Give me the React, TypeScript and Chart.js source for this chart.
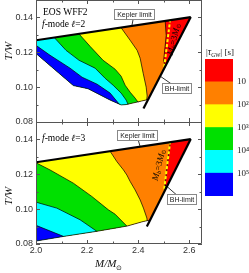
import { useEffect, useRef } from 'react';
import { Chart, registerables } from 'chart.js';

Chart.register(...registerables);

type Pt = [number, number];

// ---------- axes / legend text ----------
const xTickLabels = ['2.0', '2.2', '2.4', '2.6'];
const yTickLabels = ['0.08', '0.10', '0.12', '0.14'];
// colours from shortest (< 10 s) to longest (> 10^5 s) damping time
const levelColors = ['#ff0000', '#ff8000', '#ffff00', '#00e000', '#00ffff', '#0000ff'];
const colorbarTickLabels = ['10⁵', '10⁴', '10³', '10²', '10'];

// ---------- shared limits (x = M/M⊙, y = T/W) ----------
const keplerLimit: Pt[] = [[2.0, 0.1269], [2.606, 0.1402]];
const bhLimitL2: Pt[] = [[2.606, 0.1402], [2.4208, 0.0878]];
const bhLimitL3: Pt[] = [[2.606, 0.1402], [2.4341, 0.09]];
const baryonMass3: Pt[] = [[2.5255, 0.1389], [2.502, 0.1114]];

// ---------- f-mode l=2 ----------
const lowerEdgeL2: Pt[] = [[2.439, 0.0929], [2.3529, 0.09], [2.3333, 0.0898], [2.2902, 0.0926], [2.2039, 0.0991], [2.1463, 0.1009], [2.0, 0.1193]];
const tau10L2: Pt[] = [[2.5059, 0.1379], [2.5098, 0.1297], [2.5039, 0.1211], [2.5, 0.1154], [2.5059, 0.1111]];
const tau100L2: Pt[] = [[2.3333, 0.1341], [2.3686, 0.1269], [2.3961, 0.1211], [2.4078, 0.1166], [2.4196, 0.108], [2.4314, 0.1], [2.4353, 0.0949], [2.4333, 0.0926]];
const tau1e3L2: Pt[] = [[2.1686, 0.1305], [2.2118, 0.1234], [2.2627, 0.1154], [2.3098, 0.1103], [2.3333, 0.1063], [2.349, 0.1011], [2.3686, 0.0971], [2.3882, 0.0937], [2.4, 0.0913]];
const tau1e4L2: Pt[] = [[2.0706, 0.1286], [2.1176, 0.1211], [2.1686, 0.1154], [2.2314, 0.1109], [2.2706, 0.1051], [2.302, 0.1011], [2.3333, 0.0966], [2.3529, 0.0926], [2.3608, 0.09]];
const tau1e5L2: Pt[] = [[2.0, 0.124], [2.0549, 0.1183], [2.1333, 0.1109], [2.1804, 0.1057], [2.2392, 0.1017], [2.2902, 0.0966], [2.3255, 0.0903]];

// ---------- f-mode l=3 ----------
const lowerEdgeL3: Pt[] = [[2.4465, 0.0937], [2.4196, 0.0929], [2.3569, 0.0903], [2.3098, 0.0891], [2.2392, 0.0873], [2.1059, 0.0843], [2.0, 0.0817]];
const tau10L3: Pt[] = [[2.5255, 0.1383], [2.5188, 0.131], [2.5125, 0.1234], [2.5059, 0.1139], [2.5063, 0.1114]];
const tau100L3: Pt[] = [[2.2902, 0.1332], [2.3165, 0.1273], [2.3424, 0.1225], [2.3557, 0.1196], [2.3686, 0.1159], [2.3882, 0.111], [2.4078, 0.1053], [2.4208, 0.1006], [2.4341, 0.0949], [2.4353, 0.0934]];
const tau1e3L3: Pt[] = [[2.0, 0.1266], [2.0549, 0.1225], [2.1463, 0.1149], [2.2184, 0.1073], [2.2835, 0.0996], [2.3098, 0.0971], [2.3557, 0.0903]];
const tau1e4L3: Pt[] = [[2.0, 0.104], [2.0812, 0.1006], [2.1725, 0.0939], [2.238, 0.0873]];
const tau1e5L3: Pt[] = [[2.0, 0.0907], [2.1071, 0.0844]];

const SERIF = "'Liberation Serif', 'Times New Roman', serif";
const SANS = "'Liberation Sans', Arial, sans-serif";

interface PanelData {
  ell: string;
  contours: Pt[][];
  lowerEdge: Pt[];
  bhLimit: Pt[];
}

const panelL2: PanelData = { ell: '2', contours: [tau10L2, tau100L2, tau1e3L2, tau1e4L2, tau1e5L2], lowerEdge: lowerEdgeL2, bhLimit: bhLimitL2 };
const panelL3: PanelData = { ell: '3', contours: [tau10L3, tau100L3, tau1e3L3, tau1e4L3, tau1e5L3], lowerEdge: lowerEdgeL3, bhLimit: bhLimitL3 };

interface PanelLayout {
  padBottom: number;
  xAxisHeight: number;
  showX: boolean;
  frameBottom: boolean;
  eos: boolean;
  modeBaseline: number;
  yTitleY: number;
  keplerBox: { at: Pt; to: Pt };
  bhBox: { at: Pt; to: Pt };
  massLabel: Pt;
}

const layoutTop: PanelLayout = {
  padBottom: 8, xAxisHeight: 0, showX: false, frameBottom: false, eos: true, modeBaseline: 27, yTitleY: 51,
  keplerBox: { at: [2.3843, 0.1421], to: [2.3753, 0.1351] },
  bhBox: { at: [2.551, 0.0997], to: [2.4862, 0.1063] },
  massLabel: [2.5412, 0.1274],
};
const layoutBottom: PanelLayout = {
  padBottom: 0, xAxisHeight: 29, showX: true, frameBottom: true, eos: false, modeBaseline: 18.5, yTitleY: 74,
  keplerBox: { at: [2.394, 0.1427], to: [2.4078, 0.1359] },
  bhBox: { at: [2.5706, 0.1056], to: [2.5128, 0.113] },
  massLabel: [2.4824, 0.1254],
};

type Run = { t: string; italic?: boolean; size: number; dy?: number };

function runFont(r: Run) {
  return `${r.italic ? 'italic ' : ''}${r.size}px ${SERIF}`;
}

function drawRuns(ctx: CanvasRenderingContext2D, runs: Run[], x: number, y: number, center = false) {
  let total = 0;
  runs.forEach((r) => { ctx.font = runFont(r); total += ctx.measureText(r.t).width; });
  let cx = center ? x - total / 2 : x;
  ctx.textAlign = 'left';
  runs.forEach((r) => {
    ctx.font = runFont(r);
    ctx.fillText(r.t, cx, y + (r.dy || 0));
    cx += ctx.measureText(r.t).width;
  });
}

function lineDs(pts: Pt[], color: string, width: number, extra: any = {}) {
  return {
    data: pts.map(([x, y]) => ({ x, y })),
    showLine: true,
    borderColor: color,
    borderWidth: width,
    pointRadius: 0,
    pointHoverRadius: 0,
    fill: false,
    tension: 0,
    ...extra,
  };
}

function noScalePadding(s: any) {
  s.paddingTop = 0;
  s.paddingBottom = 0;
  s.paddingLeft = 0;
  s.paddingRight = 0;
}

function regionPlugin(p: PanelData) {
  return {
    id: 'regions',
    beforeDatasetsDraw(chart: any) {
      const { ctx, chartArea: a, scales } = chart;
      const P = (q: Pt) => [scales.x.getPixelForValue(q[0]), scales.y.getPixelForValue(q[1])];
      ctx.save();
      ctx.beginPath();
      ctx.rect(a.left, a.top, a.right - a.left, a.bottom - a.top);
      ctx.clip();
      ctx.beginPath();
      [...keplerLimit, ...p.lowerEdge].forEach((q, i) => {
        const [X, Y] = P(q);
        if (i) ctx.lineTo(X, Y); else ctx.moveTo(X, Y);
      });
      ctx.closePath();
      ctx.clip();
      ctx.fillStyle = levelColors[0];
      ctx.fillRect(a.left - 10, a.top - 10, a.right - a.left + 20, a.bottom - a.top + 20);
      p.contours.forEach((c, k) => {
        const pts = c.map(P);
        ctx.beginPath();
        ctx.moveTo(pts[0][0], a.top - 10);
        pts.forEach(([X, Y]) => ctx.lineTo(X, Y));
        ctx.lineTo(pts[pts.length - 1][0], a.bottom + 10);
        ctx.lineTo(a.left - 10, a.bottom + 10);
        ctx.lineTo(a.left - 10, a.top - 10);
        ctx.closePath();
        ctx.fillStyle = levelColors[k + 1];
        ctx.fill();
      });
      ctx.restore();
    },
  };
}

function decorPlugin(p: PanelData, L: PanelLayout) {
  return {
    id: 'decor',
    afterDatasetsDraw(chart: any) {
      const { ctx, chartArea: a, scales } = chart;
      const xs = scales.x, ys = scales.y;
      const P = (q: Pt) => [xs.getPixelForValue(q[0]), ys.getPixelForValue(q[1])];
      ctx.save();
      // frame
      ctx.strokeStyle = '#555';
      ctx.lineWidth = 1;
      const l = Math.round(a.left) + 0.5, r = Math.round(a.right) - 0.5, t = Math.round(a.top) + 0.5, b = Math.round(a.bottom) - 0.5;
      ctx.beginPath();
      if (L.frameBottom) {
        ctx.rect(l, t, r - l, b - t);
      } else {
        ctx.moveTo(l, a.bottom); ctx.lineTo(l, t); ctx.lineTo(r, t); ctx.lineTo(r, a.bottom);
      }
      xs.ticks.forEach((tk: any) => {
        const k = tk.value * 10;
        if (Math.abs(k - Math.round(k)) > 1e-6) return;
        const len = Math.round(k) % 2 === 0 ? 4 : 2.5;
        const X = Math.round(xs.getPixelForValue(tk.value)) + 0.5;
        ctx.moveTo(X, a.bottom); ctx.lineTo(X, a.bottom - len);
        ctx.moveTo(X, a.top); ctx.lineTo(X, a.top + len);
      });
      ys.ticks.forEach((tk: any) => {
        const k = tk.value * 100;
        if (Math.abs(k - Math.round(k)) > 1e-6) return;
        const len = Math.round(k) % 2 === 0 ? 4 : 2.5;
        const Y = Math.round(ys.getPixelForValue(tk.value)) + 0.5;
        ctx.moveTo(a.left, Y); ctx.lineTo(a.left + len, Y);
        ctx.moveTo(a.right, Y); ctx.lineTo(a.right - len, Y);
      });
      ctx.stroke();

      ctx.fillStyle = '#000';
      ctx.textBaseline = 'alphabetic';
      if (L.eos) drawRuns(ctx, [{ t: 'EOS WFF2', size: 9.5 }], a.left + 7, a.top + 15);
      drawRuns(ctx, [
        { t: 'f', italic: true, size: 9.5 },
        { t: '-mode ', size: 9.5 },
        { t: 'ℓ', italic: true, size: 9.5 },
        { t: '=' + p.ell, size: 9.5 },
      ], a.left + 6, a.top + L.modeBaseline);

      // M_b = 3 M_sun label
      const [mx, my] = P(L.massLabel);
      ctx.save();
      ctx.translate(mx, my);
      ctx.rotate((-76 * Math.PI) / 180);
      ctx.textBaseline = 'middle';
      drawRuns(ctx, [
        { t: 'M', italic: true, size: 9 },
        { t: 'b', italic: true, size: 6, dy: 2 },
        { t: '=3', size: 9 },
        { t: 'M', italic: true, size: 9 },
        { t: '⊙', size: 6, dy: 2 },
      ], 0, 0, true);
      ctx.restore();

      // label boxes
      const boxes = [
        { text: 'Kepler limit', ...L.keplerBox },
        { text: 'BH-limit', ...L.bhBox },
      ];
      boxes.forEach((bx) => {
        const [cx, cy] = P(bx.at);
        const [tx, ty] = P(bx.to);
        ctx.strokeStyle = '#000';
        ctx.lineWidth = 0.8;
        ctx.beginPath(); ctx.moveTo(cx, cy); ctx.lineTo(tx, ty); ctx.stroke();
        ctx.font = `7px ${SANS}`;
        const w = Math.round(ctx.measureText(bx.text).width + 5);
        const h = 10;
        const bx0 = Math.round(cx - w / 2) + 0.5, by0 = Math.round(cy - h / 2) + 0.5;
        ctx.fillStyle = '#fff';
        ctx.fillRect(bx0, by0, w, h);
        ctx.strokeStyle = '#888';
        ctx.lineWidth = 1;
        ctx.strokeRect(bx0, by0, w, h);
        ctx.fillStyle = '#222';
        ctx.textAlign = 'center';
        ctx.textBaseline = 'middle';
        ctx.fillText(bx.text, bx0 + w / 2, by0 + h / 2 + 0.5);
      });

      // axis titles
      ctx.fillStyle = '#111';
      ctx.save();
      ctx.translate(9, a.top + L.yTitleY);
      ctx.rotate(-Math.PI / 2);
      ctx.textBaseline = 'middle';
      drawRuns(ctx, [{ t: 'T/W', italic: true, size: 11 }], 0, 0, true);
      ctx.restore();
      if (L.showX) {
        ctx.textBaseline = 'alphabetic';
        drawRuns(ctx, [{ t: 'M/M', italic: true, size: 11 }, { t: '⊙', size: 7, dy: 3 }], 95, a.bottom + 23);
      }
      ctx.restore();
    },
  };
}

function panelConfig(p: PanelData, L: PanelLayout): any {
  return {
    type: 'scatter',
    data: {
      datasets: [
        lineDs(keplerLimit, '#000', 2.2),
        lineDs(p.bhLimit, '#000', 2.2),
        lineDs(baryonMass3, '#ffff00', 2, { borderDash: [3, 2] }),
        ...p.contours.map((c) => lineDs(c, '#000', 0.7)),
        lineDs(p.lowerEdge, '#000', 0.7),
      ],
    },
    options: {
      animation: false,
      responsive: false,
      events: [],
      layout: { autoPadding: false, padding: { left: 0, right: 47, top: 0, bottom: L.padBottom } },
      plugins: { legend: { display: false }, tooltip: { enabled: false } },
      scales: {
        x: {
          type: 'linear', min: 2.0, max: 2.65,
          grid: { display: false, drawTicks: false }, border: { display: false },
          ticks: {
            display: L.showX, stepSize: 0.1, includeBounds: false, autoSkip: false, maxRotation: 0, padding: 1,
            color: '#333', font: { family: SANS, size: 9 },
            callback: (v: any) => {
              const s = Number(v).toFixed(1);
              return xTickLabels.includes(s) && Math.abs(Number(v) - Number(s)) < 1e-6 ? s : '';
            },
          },
          afterFit: (s: any) => { s.height = L.xAxisHeight; noScalePadding(s); },
        },
        y: {
          type: 'linear', min: 0.08, max: 0.15,
          grid: { display: false, drawTicks: false }, border: { display: false },
          ticks: {
            stepSize: 0.01, autoSkip: false, padding: 3,
            color: '#333', font: { family: SANS, size: 9 },
            callback: (v: any) => {
              const s = Number(v).toFixed(2);
              return yTickLabels.includes(s) && Math.abs(Number(v) - Number(s)) < 1e-6 ? s : '';
            },
          },
          afterFit: (s: any) => { s.width = 36; noScalePadding(s); },
        },
      },
    },
    plugins: [regionPlugin(p), decorPlugin(p, L)],
  };
}

const colorbarTitle = {
  id: 'cbTitle',
  afterDraw(chart: any) {
    const { ctx, chartArea: a } = chart;
    ctx.save();
    ctx.fillStyle = '#111';
    ctx.textBaseline = 'alphabetic';
    drawRuns(ctx, [
      { t: '|', size: 9 },
      { t: 'τ', italic: true, size: 9.5 },
      { t: 'GW', size: 5.5, dy: 2 },
      { t: '| [s]', size: 9 },
    ], a.left + 1, a.top - 4);
    ctx.restore();
  },
};

function colorbarConfig(): any {
  const bottomUp = [...levelColors].reverse();
  return {
    type: 'bar',
    data: {
      labels: [''],
      datasets: bottomUp.map((c) => ({ data: [1], backgroundColor: c, borderWidth: 0, barPercentage: 1, categoryPercentage: 1 })),
    },
    options: {
      animation: false,
      responsive: false,
      events: [],
      layout: { autoPadding: false, padding: { left: 5, top: 19, bottom: 9, right: 0 } },
      plugins: { legend: { display: false }, tooltip: { enabled: false } },
      scales: {
        x: { stacked: true, display: false },
        y: {
          stacked: true, position: 'right', min: 0, max: 6,
          grid: { display: false, drawTicks: false }, border: { display: false },
          ticks: {
            stepSize: 1, autoSkip: false, padding: 4, color: '#222',
            font: { family: SERIF, size: 9 },
            callback: (v: any) => colorbarTickLabels[Number(v) - 1] ?? '',
          },
          afterFit: (s: any) => { s.width = 16; noScalePadding(s); },
        },
      },
    },
    plugins: [colorbarTitle],
  };
}

export default function App() {
  const topRef = useRef<HTMLCanvasElement>(null);
  const botRef = useRef<HTMLCanvasElement>(null);
  const barRef = useRef<HTMLCanvasElement>(null);

  useEffect(() => {
    const charts = [
      new Chart(topRef.current as HTMLCanvasElement, panelConfig(panelL2, layoutTop)),
      new Chart(botRef.current as HTMLCanvasElement, panelConfig(panelL3, layoutBottom)),
      new Chart(barRef.current as HTMLCanvasElement, colorbarConfig()),
    ];
    return () => charts.forEach((c) => c.destroy());
  }, []);

  return (
    <div style={{ position: 'fixed', left: 0, top: 0, width: 249, height: 273, background: '#fff', overflow: 'hidden' }}>
      <canvas ref={topRef} width={249} height={130} style={{ position: 'absolute', left: 0, top: 0, display: 'block' }} />
      <canvas ref={botRef} width={249} height={151} style={{ position: 'absolute', left: 0, top: 122, display: 'block' }} />
      <canvas ref={barRef} width={49} height={165} style={{ position: 'absolute', left: 200, top: 40, display: 'block' }} />
    </div>
  );
}
